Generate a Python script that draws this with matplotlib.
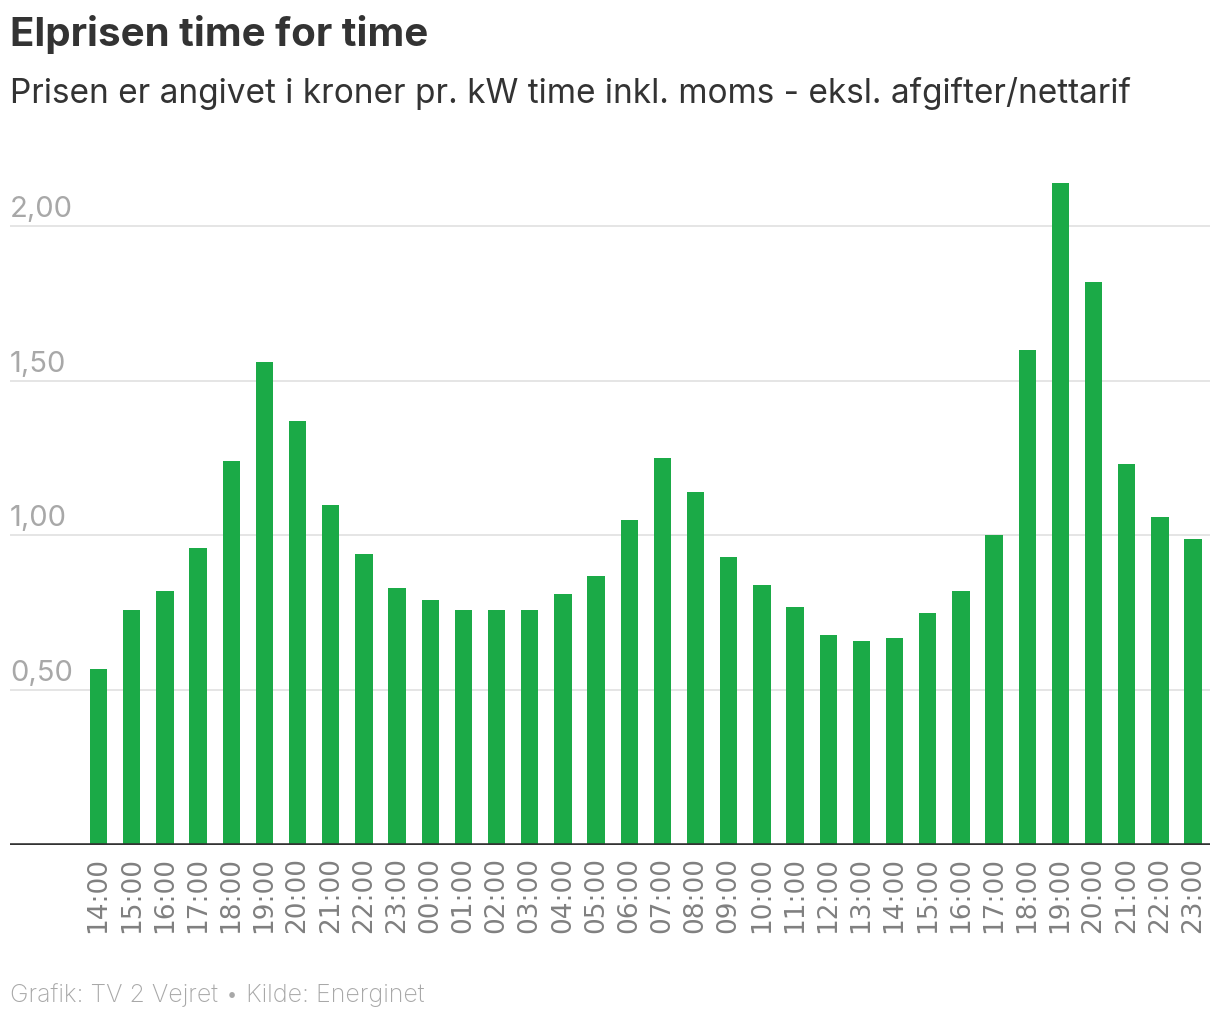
import matplotlib.pyplot as plt
import matplotlib.transforms as mtransforms

# hours shown on the x axis (two days, 14:00 to 23:00 next day)
hours = ["14:00", "15:00", "16:00", "17:00", "18:00", "19:00", "20:00", "21:00",
         "22:00", "23:00", "00:00", "01:00", "02:00", "03:00", "04:00", "05:00",
         "06:00", "07:00", "08:00", "09:00", "10:00", "11:00", "12:00", "13:00",
         "14:00", "15:00", "16:00", "17:00", "18:00", "19:00", "20:00", "21:00",
         "22:00", "23:00"]

# price in kr per kWh
prices = [0.57, 0.76, 0.82, 0.96, 1.24, 1.56, 1.37, 1.10,
          0.94, 0.83, 0.79, 0.76, 0.76, 0.76, 0.81, 0.87,
          1.05, 1.25, 1.14, 0.93, 0.84, 0.77, 0.68, 0.66,
          0.67, 0.75, 0.82, 1.00, 1.60, 2.14, 1.82, 1.23,
          1.06, 0.99]

y_ticks = [0.5, 1.0, 1.5, 2.0]
y_tick_labels = ["0,50", "1,00", "1,50", "2,00"]

title = "Elprisen time for time"
subtitle = "Prisen er angivet i kroner pr. kW time inkl. moms - eksl. afgifter/nettarif"
footer = "Grafik: TV 2 Vejret \u2022 Kilde: Energinet"

plt.rcParams['font.family'] = ['Inter', 'DejaVu Sans']

fig = plt.figure(figsize=(12.2, 10.2), dpi=100)
ax = fig.add_axes([10 / 1220, 174 / 1020, 1200 / 1220, 681 / 1020])

x = range(len(prices))
ax.bar(x, prices, width=0.52, color='#1BAA47', zorder=2)

ax.set_xlim(-2.67, len(prices) - 0.49)
ax.set_ylim(0, 2.2)

# gridlines and baseline
for v in y_ticks:
    ax.axhline(v, color='#e5e5e5', linewidth=1.4, zorder=1)
ax.axhline(0, color='#333333', linewidth=2.6, zorder=3)

# y tick labels sit inside the plot, just above each gridline
trans = mtransforms.blended_transform_factory(ax.transAxes, ax.transData)
trans = mtransforms.offset_copy(trans, fig=fig, x=0, y=4, units='dots')
for v, lab in zip(y_ticks, y_tick_labels):
    ax.text(0, v, lab, transform=trans, ha='left', va='bottom',
            fontsize=21, color='#a8a8a8')

ax.set_yticks([])
ax.set_xticks(list(x))
ax.set_xticklabels(hours, rotation=90, fontsize=19, color='#808080',
                   family='DejaVu Sans')
ax.tick_params(axis='x', length=0, pad=8)
for s in ax.spines.values():
    s.set_visible(False)

fig.text(10 / 1220, 1 - 35 / 1020, title, fontsize=29, fontweight='bold',
         color='#333333', ha='left', va='center')
fig.text(10 / 1220, 1 - 93 / 1020, subtitle, fontsize=24,
         color='#333333', ha='left', va='center')
fig.text(10 / 1220, 1 - 995 / 1020, footer, fontsize=18, fontweight='light',
         color='#a8a8a8', ha='left', va='center')

fig.savefig("out.png", dpi=100)
